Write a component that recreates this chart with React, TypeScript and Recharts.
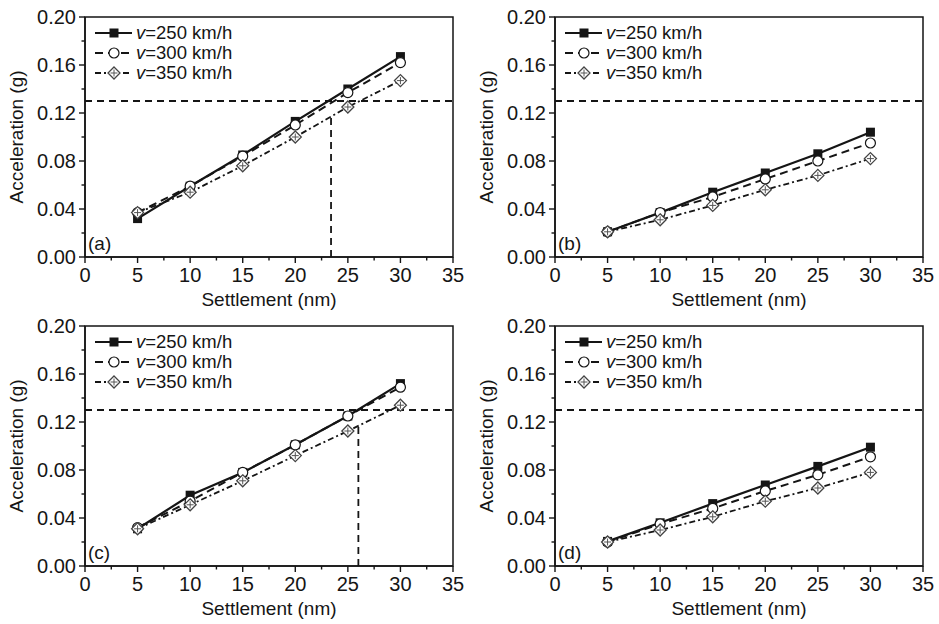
import React from 'react';
import {
  LineChart, Line, XAxis, YAxis, ReferenceLine, ReferenceArea, Legend, Label,
} from 'recharts';

// ---------- data ----------
const settlement = [5, 10, 15, 20, 25, 30];

const a_v250 = [0.032, 0.059, 0.085, 0.113, 0.140, 0.167];
const a_v300 = [0.037, 0.059, 0.084, 0.110, 0.137, 0.162];
const a_v350 = [0.037, 0.054, 0.076, 0.100, 0.125, 0.147];

const b_v250 = [0.021, 0.037, 0.054, 0.070, 0.086, 0.104];
const b_v300 = [0.021, 0.037, 0.050, 0.065, 0.080, 0.095];
const b_v350 = [0.021, 0.031, 0.043, 0.056, 0.068, 0.082];

const c_v250 = [0.031, 0.059, 0.078, 0.101, 0.125, 0.152];
const c_v300 = [0.032, 0.054, 0.078, 0.101, 0.125, 0.149];
const c_v350 = [0.031, 0.051, 0.071, 0.092, 0.1125, 0.134];

const d_v250 = [0.0205, 0.036, 0.052, 0.0675, 0.083, 0.099];
const d_v300 = [0.020, 0.035, 0.048, 0.0625, 0.076, 0.091];
const d_v350 = [0.020, 0.030, 0.041, 0.054, 0.065, 0.078];

const seriesNames = ['250', '300', '350'];
const limitValue = 0.13;
const crossA = [23.4, 0.118];
const crossC = [26.0, 0.118];

const xTicks = [0, 2.5, 5, 7.5, 10, 12.5, 15, 17.5, 20, 22.5, 25, 27.5, 30, 32.5, 35];
const xMajor = [0, 5, 10, 15, 20, 25, 30, 35];
const yTicks = [0, 0.02, 0.04, 0.06, 0.08, 0.1, 0.12, 0.14, 0.16, 0.18, 0.2];
const yMajor = ['0.00', '0.04', '0.08', '0.12', '0.16', '0.20'];

const FONT = '"Liberation Sans", Arial, sans-serif';
const INK = '#151515';

const makeRows = (s1: number[], s2: number[], s3: number[]) =>
  settlement.map((x, i) => ({ x, v250: s1[i], v300: s2[i], v350: s3[i] }));

// ---------- markers ----------
const Square = ({ cx, cy }: any) => (
  <rect x={cx - 4.5} y={cy - 4.5} width={9} height={9} fill={INK} />
);
const Circle = ({ cx, cy }: any) => (
  <circle cx={cx} cy={cy} r={5} fill="#fff" stroke={INK} strokeWidth={1.2} />
);
const Diamond = ({ cx, cy }: any) => (
  <g>
    <path d={`M${cx},${cy - 6} L${cx + 6},${cy} L${cx},${cy + 6} L${cx - 6},${cy} Z`} fill="#fff" stroke="#444" strokeWidth={1.3} />
    <line x1={cx - 3.5} y1={cy} x2={cx + 3.5} y2={cy} stroke="#555" strokeWidth={1} />
    <line x1={cx} y1={cy - 3.5} x2={cx} y2={cy + 3.5} stroke="#555" strokeWidth={1} />
  </g>
);

const lineStyles: Record<string, { dash?: string; width: number; Marker: any }> = {
  '250': { dash: undefined, width: 2.2, Marker: Square },
  '300': { dash: '8 5', width: 2, Marker: Circle },
  '350': { dash: '6 3 2 3', width: 1.8, Marker: Diamond },
};

// ---------- ticks ----------
const XTick = ({ x, y, payload }: any) => {
  const v = payload.value;
  const major = xMajor.includes(v);
  return (
    <g>
      <line x1={x} y1={y} x2={x} y2={y + (major ? 6 : 3.5)} stroke={INK} strokeWidth={1.4} />
      {major && (
        <text x={x} y={y + 25} textAnchor="middle" fontSize={20} fontFamily={FONT} fill={INK}>
          {String(v)}
        </text>
      )}
    </g>
  );
};

const YTick = ({ x, y, payload }: any) => {
  const label = Number(payload.value).toFixed(2);
  const major = yMajor.includes(label);
  return (
    <g>
      <line x1={x} y1={y} x2={x - (major ? 6 : 3.5)} y2={y} stroke={INK} strokeWidth={1.4} />
      {major && (
        <text x={x - 9} y={y} dy="0.36em" textAnchor="end" fontSize={20} fontFamily={FONT} fill={INK}>
          {label}
        </text>
      )}
    </g>
  );
};

// ---------- legend ----------
const LegendBox = () => (
  <div style={{ fontFamily: FONT, fontSize: 18.5, color: INK, lineHeight: '20px' }}>
    {seriesNames.map((n) => {
      const st = lineStyles[n];
      const M = st.Marker;
      return (
        <div key={n} style={{ display: 'flex', alignItems: 'center', height: 20 }}>
          <svg width={40} height={20} style={{ display: 'block' }}>
            <line x1={1} y1={10} x2={38} y2={10} stroke={INK} strokeWidth={st.width} strokeDasharray={st.dash} />
            <M cx={20} cy={10} />
          </svg>
          <span style={{ marginLeft: 2, whiteSpace: 'nowrap' }}>
            <i>v</i>={n} km/h
          </span>
        </div>
      );
    })}
  </div>
);

// ---------- panel ----------
type PanelProps = {
  rows: any[];
  tag: string;
  cross?: number[];
  left: number;
  top: number;
  height: number;
};

const Panel = ({ rows, tag, cross, left, top, height }: PanelProps) => {
  const xAxisH = height - 17 - 240;
  return (
    <div style={{ position: 'absolute', left, top }}>
      <LineChart width={470} height={height} data={rows} margin={{ top: 17, right: 17, left: 0, bottom: 0 }}>
        <XAxis
          type="number"
          dataKey="x"
          domain={[0, 35]}
          ticks={xTicks}
          interval={0}
          tickSize={0}
          tickMargin={0}
          tickLine={false}
          tick={<XTick />}
          axisLine={{ stroke: INK, strokeWidth: 1.5 }}
          height={xAxisH}
        >
          <Label
            content={() => (
              <text x={269} y={17 + 240 + 49} textAnchor="middle" fontSize={19} fontFamily={FONT} fill={INK}>
                Settlement (nm)
              </text>
            )}
          />
        </XAxis>
        <YAxis
          type="number"
          domain={[0, 0.2]}
          ticks={yTicks}
          interval={0}
          tickSize={0}
          tickMargin={0}
          tickLine={false}
          tick={<YTick />}
          axisLine={{ stroke: INK, strokeWidth: 1.5 }}
          width={85}
        >
          <Label
            content={() => (
              <g>
                <text
                  x={23}
                  y={137}
                  transform="rotate(-90, 23, 137)"
                  textAnchor="middle"
                  fontSize={19}
                  fontFamily={FONT}
                  fill={INK}
                >
                  Acceleration (g)
                </text>
                <text x={88} y={250} fontSize={19} fontFamily={FONT} fill={INK}>
                  {tag}
                </text>
              </g>
            )}
          />
        </YAxis>
        <ReferenceArea x1={0} x2={35} y1={0} y2={0.2} fill="none" stroke={INK} strokeWidth={1.5} />
        <ReferenceLine y={limitValue} stroke={INK} strokeWidth={1.8} strokeDasharray="7 5" />
        {cross && (
          <ReferenceLine
            segment={[{ x: cross[0], y: 0 }, { x: cross[0], y: cross[1] }]}
            stroke={INK}
            strokeWidth={1.8}
            strokeDasharray="7 5"
          />
        )}
        {seriesNames.map((n) => {
          const st = lineStyles[n];
          const M = st.Marker;
          return (
            <Line
              key={n}
              type="linear"
              dataKey={`v${n}`}
              stroke={INK}
              strokeWidth={st.width}
              strokeDasharray={st.dash}
              isAnimationActive={false}
              dot={(p: any) => <M key={`${n}-${p.index}`} cx={p.cx} cy={p.cy} />}
              activeDot={false}
            />
          );
        })}
        <Legend
          layout="vertical"
          align="center"
          verticalAlign="middle"
          content={() => <LegendBox />}
          wrapperStyle={{ position: 'absolute', left: 94, top: 23, width: 200, height: 62 }}
        />
      </LineChart>
    </div>
  );
};

export default function App() {
  return (
    <div style={{ position: 'absolute', left: 0, top: 0, width: 939, height: 624, background: '#fff' }}>
      <Panel rows={makeRows(a_v250, a_v300, a_v350)} tag="(a)" cross={crossA} left={0} top={0} height={310} />
      <Panel rows={makeRows(b_v250, b_v300, b_v350)} tag="(b)" left={470} top={0} height={310} />
      <Panel rows={makeRows(c_v250, c_v300, c_v350)} tag="(c)" cross={crossC} left={0} top={309} height={315} />
      <Panel rows={makeRows(d_v250, d_v300, d_v350)} tag="(d)" left={470} top={309} height={315} />
    </div>
  );
}
